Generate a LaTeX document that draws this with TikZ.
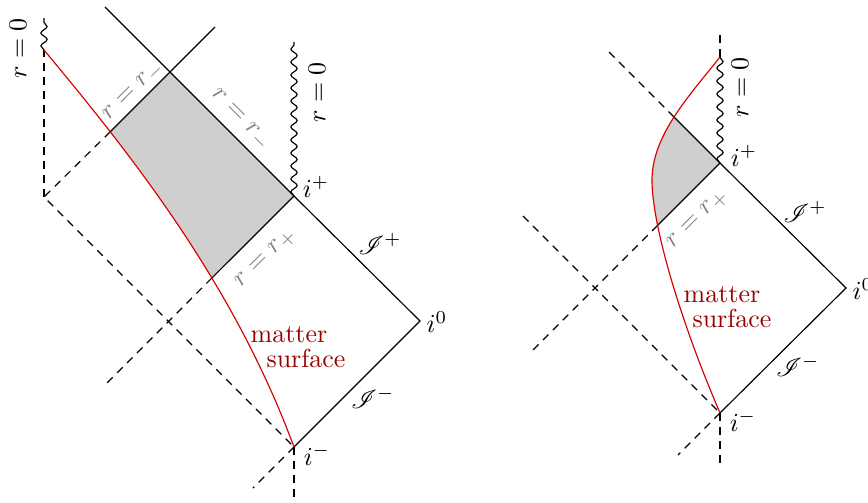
\documentclass[tikz,border=0pt]{standalone}
\usepackage{mathrsfs}
\usetikzlibrary{decorations.pathmorphing,intersections}
\begin{document}
\begin{tikzpicture}[x=0.385pt,y=-0.385pt,
  solidline/.style={black, line width=0.45pt},
  dashline/.style={black, line width=0.45pt, dash pattern=on 3pt off 2.4pt},
  wavy/.style={black, line width=0.45pt, decorate, decoration={snake, segment length=5pt, amplitude=1.2pt}},
  matterline/.style={red!85!black, line width=0.45pt},
  shadefill/.style={fill=black!19},
  lbl/.style={inner sep=0pt},
  glbl/.style={inner sep=0pt, text=black!50},
  mlbl/.style={inner sep=0pt, text=red!60!black}]
\useasboundingbox (0,0) rectangle (868,503);

% ---------------- left diagram ----------------
\coordinate (Lim) at (294,447);
\coordinate (Li0) at (420,321);
\coordinate (Lip) at (294,196);
\coordinate (Lwt) at (294,42);
\coordinate (Ltl) at (105,7);
\coordinate (Lrm) at (170,72);
\coordinate (Ltr) at (215,27);
\coordinate (Lleft) at (44,197);
\coordinate (Lsing) at (44,50);
\coordinate (Lwl) at (44,18);
\coordinate (Lbd) at (106,384);
\coordinate (Ldl) at (253,488);
\coordinate (Ldd) at (294,500);

\path[name path=lcurve] (Lsing) .. controls (134,158) and (234,285) .. (Lim);
\path[name path=lone] (Lrm) -- (40,202);
\path[name path=ltwo] (Lip) -- (100,390);
\path[name intersections={of=lcurve and lone, by=La}];
\path[name intersections={of=lcurve and ltwo, by=Lb}];

\begin{scope}
  \clip (Lsing) .. controls (134,158) and (234,285) .. (Lim) -- (600,447) -- (600,0) -- (44,0) -- cycle;
  \fill[shadefill] (Lrm) -- (Lip) -- (150,340) -- (50,192) -- cycle;
\end{scope}

\draw[solidline] (Ltl) -- (Lip) -- (Li0) -- (Lim);
\draw[solidline] (Ltr) -- (Lrm) -- (La);
\draw[dashline] (La) -- (Lleft) -- (Lim);
\draw[dashline] (Lleft) -- (Lsing);
\draw[wavy] (Lsing) -- (Lwl);
\draw[solidline] (Lip) -- (Lb);
\draw[dashline] (Lb) -- (Lbd);
\draw[wavy] (Lip) -- (Lwt);
\draw[dashline] (Lim) -- (Ldl);
\draw[dashline] (Lim) -- (Ldd);
\draw[matterline] (Lsing) .. controls (134,158) and (234,285) .. (Lim);

\node[lbl, rotate=90] (Lr0a) at (18,48) {$r=0$};
\node[lbl, rotate=90] (Lr0b) at (317,92) {$r=0$};
\node[lbl] (Lipl) at (316,187) {$i^+$};
\node[lbl] (Li0l) at (437,322) {$i^0$};
\node[lbl] (Liml) at (317,455) {$i^-$};
\node[lbl] (Ljp) at (380,244) {$\mathscr{I}^+$};
\node[lbl] (Ljm) at (373,398) {$\mathscr{I}^-$};
\node[glbl, rotate=45] (Lrm1) at (134,92) {$r=r_-$};
\node[glbl, rotate=-45] (Lrm2) at (240,120) {$r=r_-$};
\node[glbl, rotate=45] (Lrp) at (266,259) {$r=r_+$};
\node[mlbl] (Lm1) at (289,335) {matter};
\node[mlbl] (Lm2) at (306,358) {surface};

% ---------------- right diagram ----------------
\coordinate (Rim) at (720,413);
\coordinate (Ri0) at (846,288);
\coordinate (Rip) at (720,163);
\coordinate (Rsing) at (720,57);
\coordinate (Rdt) at (720,33);
\coordinate (Rul) at (607,50);
\coordinate (Rdl) at (532,351);
\coordinate (Rleft) at (523,216);
\coordinate (Rbl) at (678,455);
\coordinate (Rbd) at (720,469);

\path[name path=rcurve] (Rsing) .. controls (690,95) and (652,135) .. (652,180) .. controls (652,225) and (680,320) .. (Rim);
\path[name path=rone] (Rip) -- (600,43);
\path[name path=rtwo] (Rip) -- (530,353);
\path[name intersections={of=rcurve and rone, by=Rc}];
\path[name intersections={of=rcurve and rtwo, by=Rd}];

\begin{scope}
  \clip (Rsing) .. controls (690,95) and (652,135) .. (652,180) .. controls (652,225) and (680,320) .. (Rim) -- (900,413) -- (900,57) -- cycle;
  \fill[shadefill] (Rip) -- (620,63) -- (620,263) -- cycle;
\end{scope}

\draw[solidline] (Rc) -- (Rip) -- (Ri0) -- (Rim);
\draw[dashline] (Rc) -- (Rul);
\draw[solidline] (Rip) -- (Rd);
\draw[dashline] (Rd) -- (Rdl);
\draw[dashline] (Rleft) -- (Rim);
\draw[dashline] (Rim) -- (Rbl);
\draw[dashline] (Rim) -- (Rbd);
\draw[wavy] (Rip) -- (Rsing);
\draw[dashline] (Rsing) -- (Rdt);
\draw[matterline] (Rsing) .. controls (690,95) and (652,135) .. (652,180) .. controls (652,225) and (680,320) .. (Rim);

\node[lbl, rotate=90] (Rr0) at (740,87) {$r=0$};
\node[lbl] (Ripl) at (744,156) {$i^+$};
\node[lbl] (Ri0l) at (863,289) {$i^0$};
\node[lbl] (Riml) at (743,421) {$i^-$};
\node[lbl] (Rjp) at (805,212) {$\mathscr{I}^+$};
\node[lbl] (Rjm) at (798,366) {$\mathscr{I}^-$};
\node[glbl, rotate=45] (Rrp) at (698,220) {$r=r_+$};
\node[mlbl] (Rm1) at (722,295) {matter};
\node[mlbl] (Rm2) at (732,318) {surface};
\end{tikzpicture}
\end{document}
